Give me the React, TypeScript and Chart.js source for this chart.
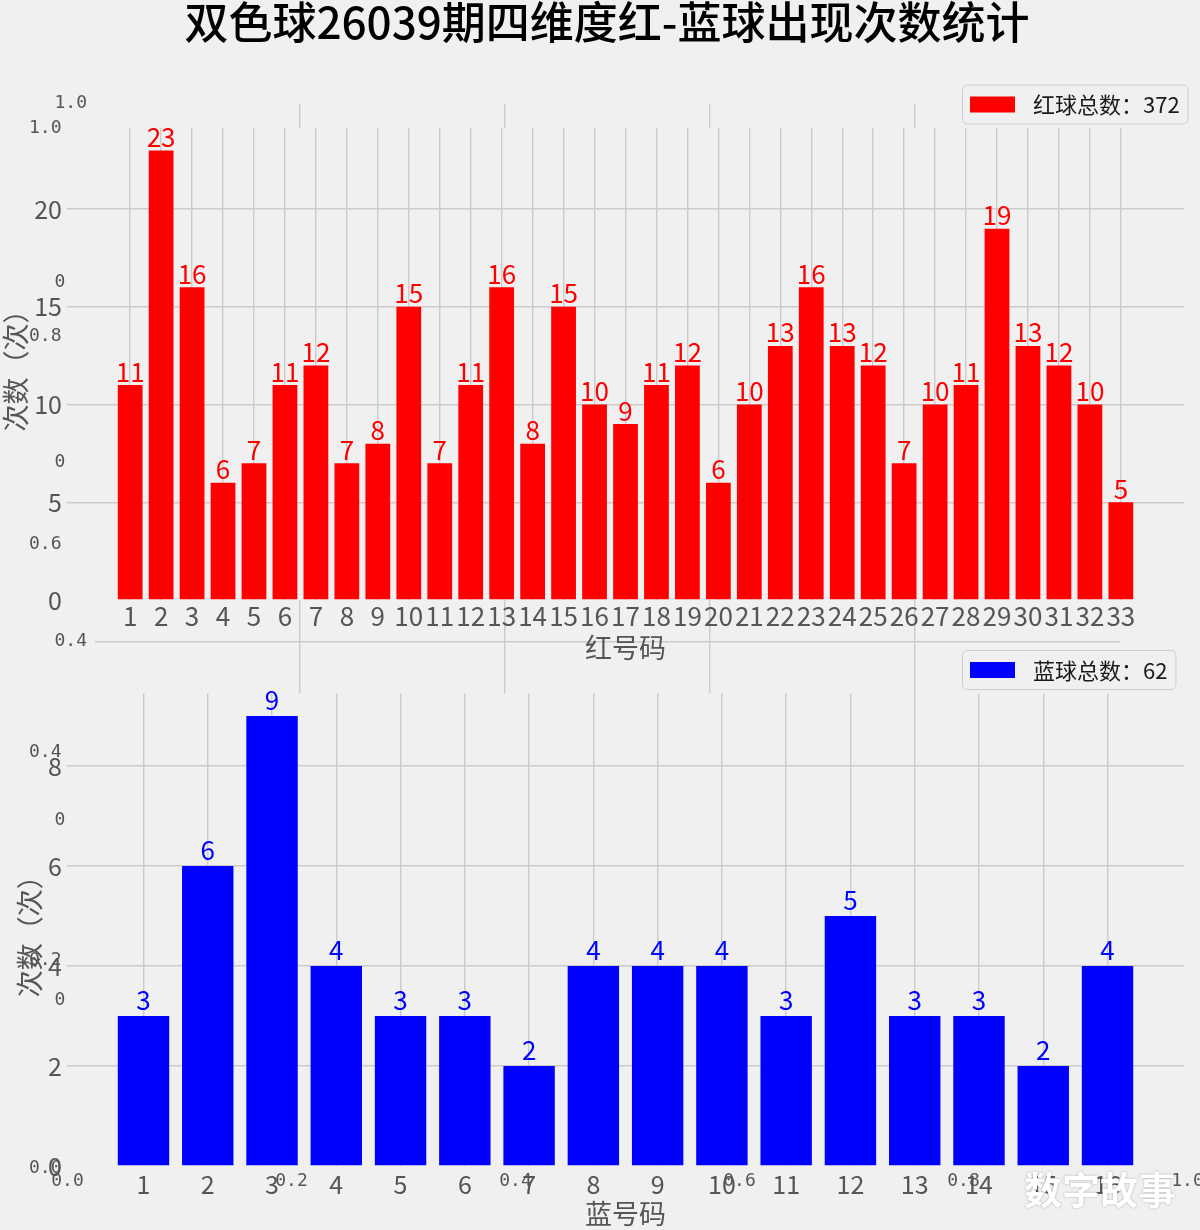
import React, { useEffect, useRef } from 'react';
import { Chart, registerables } from 'chart.js';

Chart.register(...registerables);

const PAGE_W = 1200;
const PAGE_H = 1230;
const GHOST_W = 1300;
const BG = '#f0f0f0';
const GRID = '#cbcbcb';
const TICK = '#555555';
const FONT = '"Noto Sans CJK SC", "Noto Sans", sans-serif';
const MONO = '"DejaVu Sans Mono", monospace';

const TITLE = '双色球26039期四维度红-蓝球出现次数统计';
const WATERMARK = '数字故事';

const redCategories = ['1', '2', '3', '4', '5', '6', '7', '8', '9', '10', '11', '12', '13', '14', '15', '16', '17', '18', '19', '20', '21', '22', '23', '24', '25', '26', '27', '28', '29', '30', '31', '32', '33'];
const redCounts = [11, 23, 16, 6, 7, 11, 12, 7, 8, 15, 7, 11, 16, 8, 15, 10, 9, 11, 12, 6, 10, 13, 16, 13, 12, 7, 10, 11, 19, 13, 12, 10, 5];
const blueCategories = ['1', '2', '3', '4', '5', '6', '7', '8', '9', '10', '11', '12', '13', '14', '15', '16'];
const blueCounts = [3, 6, 9, 4, 3, 3, 2, 4, 4, 4, 3, 5, 3, 3, 2, 4];
const redYTicks = [0, 5, 10, 15, 20];
const blueYTicks = [0, 2, 4, 6, 8];
const ghostTicks = [0, 0.2, 0.4, 0.6, 0.8, 1.0];

const redLegendLabel = '红球总数：' + redCounts.reduce((a, b) => a + b, 0);
const blueLegendLabel = '蓝球总数：' + blueCounts.reduce((a, b) => a + b, 0);

type Area = { left: number; top: number; right: number; bottom: number };

const fillAreaPlugin = {
  id: 'fillArea',
  beforeDraw(chart: any) {
    const { ctx, chartArea: ca } = chart;
    ctx.save();
    ctx.fillStyle = BG;
    ctx.fillRect(ca.left, ca.top, ca.right - ca.left, ca.bottom - ca.top);
    ctx.restore();
  },
};

function ghostConfig(area: Area, yPad: number, xPad: number, fill: boolean, showGrid: boolean): any {
  const xH = 40;
  const edgeClear = (c: any) => {
    const v = c.tick ? c.tick.value : null;
    return v === 0 || v === 1 ? 'rgba(0,0,0,0)' : GRID;
  };
  return {
    type: 'scatter',
    data: { datasets: [] },
    options: {
      responsive: false,
      animation: false,
      events: [],
      layout: { padding: { left: 0, top: area.top, right: GHOST_W - area.right, bottom: PAGE_H - area.bottom - xH } },
      plugins: { legend: { display: false }, tooltip: { enabled: false }, title: { display: false } },
      scales: {
        x: {
          type: 'linear',
          min: 0,
          max: 1,
          afterBuildTicks: (s: any) => { s.ticks = ghostTicks.map((v) => ({ value: v })); },
          afterFit: (s: any) => { s.height = xH; },
          ticks: { padding: xPad, color: TICK, font: { family: MONO, size: 18 }, maxRotation: 0, minRotation: 0, autoSkip: false, callback: (v: any) => Number(v).toFixed(1) },
          grid: { display: showGrid, color: edgeClear, lineWidth: 1.4, drawTicks: false },
          border: { display: false },
        },
        y: {
          type: 'linear',
          min: 0,
          max: 1,
          afterBuildTicks: (s: any) => { s.ticks = ghostTicks.map((v) => ({ value: v })); },
          afterFit: (s: any) => { s.width = area.left; },
          ticks: { padding: yPad, color: TICK, font: { family: MONO, size: 18 }, callback: (v: any) => Number(v).toFixed(1) },
          grid: { display: showGrid, color: edgeClear, lineWidth: 1.4, drawTicks: false },
          border: { display: false },
        },
      },
    },
    plugins: fill ? [fillAreaPlugin] : [],
  };
}

type BarOpts = {
  cats: string[];
  counts: number[];
  color: string;
  yTicks: number[];
  yMax: number;
  xMin: number;
  xMax: number;
  area: Area;
  xLabel: string;
  yLabel: string;
  yTitlePad: number;
  xTickPad: number;
  xTickSize: number;
  valueOffset: number;
  legendLabel: string;
};

function barConfig(o: BarOpts): any {
  const xH = 64;
  const valuePlugin = {
    id: 'values',
    afterDatasetsDraw(chart: any) {
      const ctx = chart.ctx;
      const meta = chart.getDatasetMeta(0);
      ctx.save();
      ctx.fillStyle = o.color;
      ctx.font = `26px ${FONT}`;
      ctx.textAlign = 'center';
      ctx.textBaseline = 'alphabetic';
      meta.data.forEach((el: any, i: number) => {
        ctx.fillText(String(o.counts[i]), el.x, el.y - o.valueOffset);
      });
      ctx.restore();
    },
  };
  const legendPlugin = {
    id: 'boxLegend',
    afterDraw(chart: any) {
      const ctx = chart.ctx;
      const ca = chart.chartArea;
      const ds = chart.data.datasets[0];
      ctx.save();
      ctx.font = `22px ${FONT}`;
      const tw = ctx.measureText(ds.label).width;
      const h = 39;
      const left = ca.left + 895;
      const bottom = ca.top - 4.5;
      const top = bottom - h;
      const width = 71 + tw + 8;
      ctx.beginPath();
      (ctx as any).roundRect(left + 0.5, top + 0.5, width, h, 5);
      ctx.fillStyle = 'rgba(240,240,240,0.8)';
      ctx.fill();
      ctx.strokeStyle = '#cccccc';
      ctx.lineWidth = 1;
      ctx.stroke();
      ctx.fillStyle = ds.backgroundColor;
      ctx.fillRect(left + 8, top + 12, 45, 16);
      ctx.fillStyle = '#1a1a1a';
      ctx.textAlign = 'left';
      ctx.textBaseline = 'middle';
      ctx.fillText(ds.label, left + 71, top + h / 2 + 1);
      ctx.restore();
    },
  };
  return {
    type: 'bar',
    data: {
      datasets: [
        {
          label: o.legendLabel,
          data: o.counts.map((v, i) => ({ x: i + 1, y: v })),
          backgroundColor: o.color,
          borderWidth: 0,
          categoryPercentage: 1,
          barPercentage: 0.8,
        },
      ],
    },
    options: {
      responsive: false,
      animation: false,
      events: [],
      layout: { padding: { left: 0, top: o.area.top, right: PAGE_W - o.area.right, bottom: PAGE_H - o.area.bottom - xH } },
      plugins: { legend: { display: false }, tooltip: { enabled: false }, title: { display: false } },
      scales: {
        x: {
          type: 'linear',
          min: o.xMin,
          max: o.xMax,
          offset: false,
          afterBuildTicks: (s: any) => { s.ticks = o.cats.map((_, i) => ({ value: i + 1 })); },
          afterFit: (s: any) => { s.height = xH; },
          ticks: {
            autoSkip: false,
            maxRotation: 0,
            minRotation: 0,
            padding: o.xTickPad,
            color: TICK,
            font: { family: FONT, size: o.xTickSize },
            callback: (v: any) => o.cats[Math.round(Number(v)) - 1] ?? '',
          },
          grid: { color: GRID, lineWidth: 1.4, drawTicks: false, offset: false },
          border: { display: false },
          title: { display: true, text: o.xLabel, color: TICK, font: { family: FONT, size: 27 }, padding: 0 },
        },
        y: {
          type: 'linear',
          min: 0,
          max: o.yMax,
          afterBuildTicks: (s: any) => { s.ticks = o.yTicks.map((v) => ({ value: v })); },
          afterFit: (s: any) => { s.width = o.area.left; },
          ticks: { padding: 5, color: TICK, font: { family: FONT, size: 25 } },
          grid: {
            color: (c: any) => (c.tick && c.tick.value === 0 ? 'rgba(0,0,0,0)' : GRID),
            lineWidth: 1.4,
            drawTicks: false,
          },
          border: { display: false },
          title: { display: true, text: o.yLabel, color: TICK, font: { family: FONT, size: 27 }, padding: { top: o.yTitlePad, bottom: 0 } },
        },
      },
    },
    plugins: [fillAreaPlugin, valuePlugin, legendPlugin],
  };
}

export default function App() {
  const ghostB = useRef<HTMLCanvasElement>(null);
  const ghostC = useRef<HTMLCanvasElement>(null);
  const redRef = useRef<HTMLCanvasElement>(null);
  const blueRef = useRef<HTMLCanvasElement>(null);

  useEffect(() => {
    document.body.style.margin = '0';
    const charts: Chart[] = [];
    charts.push(new Chart(ghostB.current!, ghostConfig({ left: 67.5, top: 128.5, right: 1187.5, bottom: 1168.5 }, 6, 2, false, false)));
    charts.push(new Chart(ghostC.current!, ghostConfig({ left: 95, top: 103.5, right: 1120, bottom: 1000 }, 8, 2, true, true)));
    charts.push(
      new Chart(
        redRef.current!,
        barConfig({
          cats: redCategories,
          counts: redCounts,
          color: '#ff0000',
          yTicks: redYTicks,
          yMax: 24.15,
          xMin: -1.04,
          xMax: 35.04,
          area: { left: 67, top: 128, right: 1184, bottom: 600 },
          xLabel: '红号码',
          yLabel: '次数（次）',
          yTitlePad: 0,
          xTickPad: 1,
          xTickSize: 26,
          valueOffset: 3.5,
          legendLabel: redLegendLabel,
        })
      )
    );
    charts.push(
      new Chart(
        blueRef.current!,
        barConfig({
          cats: blueCategories,
          counts: blueCounts,
          color: '#0000ff',
          yTicks: blueYTicks,
          yMax: 9.45,
          xMin: -0.19,
          xMax: 17.19,
          area: { left: 67, top: 693.5, right: 1184, bottom: 1166 },
          xLabel: '蓝号码',
          yLabel: '次数（次）',
          yTitlePad: 14,
          xTickPad: 3,
          xTickSize: 25,
          valueOffset: 6,
          legendLabel: blueLegendLabel,
        })
      )
    );
    return () => charts.forEach((c) => c.destroy());
  }, []);

  const abs: React.CSSProperties = { position: 'absolute', left: 0, top: 0 };
  return (
    <div style={{ position: 'relative', width: PAGE_W, height: PAGE_H, background: BG, overflow: 'hidden' }}>
      <canvas ref={ghostB} width={GHOST_W} height={PAGE_H} style={abs} />
      <canvas ref={ghostC} width={GHOST_W} height={PAGE_H} style={abs} />
      <canvas ref={redRef} width={PAGE_W} height={PAGE_H} style={abs} />
      <canvas ref={blueRef} width={PAGE_W} height={PAGE_H} style={abs} />
      <div
        style={{
          position: 'absolute',
          left: 7,
          top: -3,
          width: PAGE_W,
          height: 46,
          lineHeight: '46px',
          textAlign: 'center',
          fontFamily: FONT,
          fontSize: 44,
          fontWeight: 500,
          color: '#000',
          whiteSpace: 'nowrap',
        }}
      >
        {TITLE}
      </div>
      <div
        style={{
          position: 'absolute',
          left: 1024,
          top: 1166,
          fontFamily: FONT,
          fontSize: 38,
          fontWeight: 700,
          lineHeight: '44px',
          color: '#ffffff',
          textShadow: '0 0 2px rgba(0,0,0,0.35)',
          whiteSpace: 'nowrap',
        }}
      >
        {WATERMARK}
      </div>
    </div>
  );
}
